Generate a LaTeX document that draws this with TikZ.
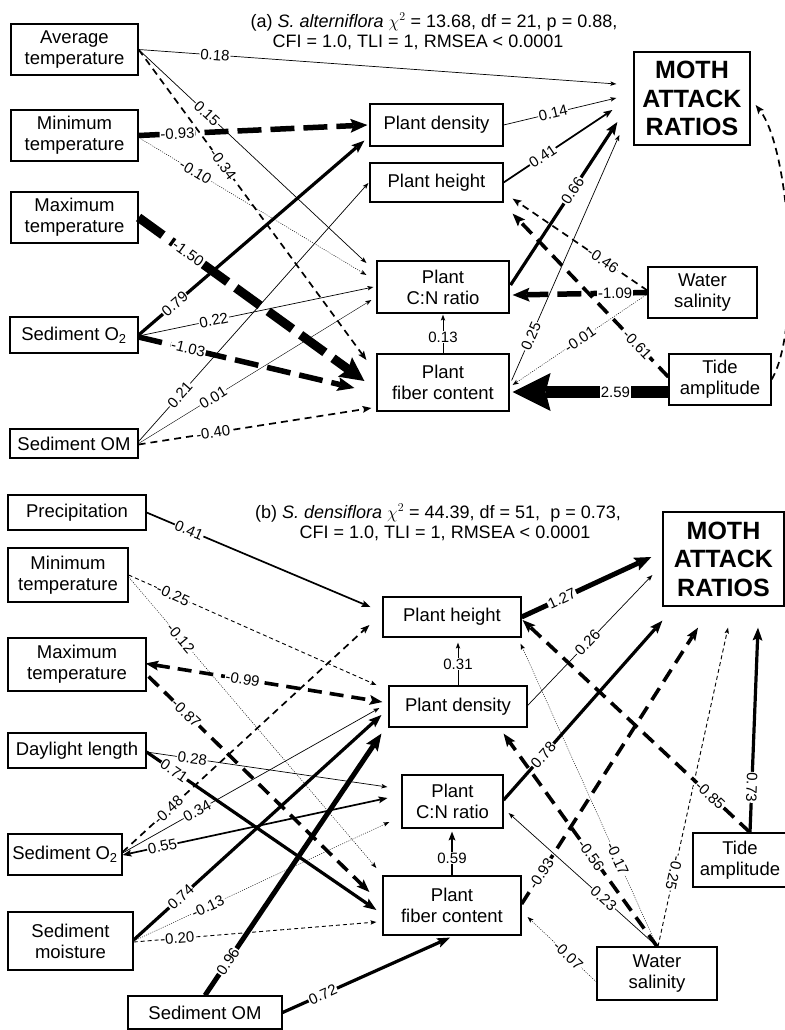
\documentclass[tikz,border=0pt]{standalone}
\usepackage{fontspec}
\setmainfont{Liberation Sans}
\usetikzlibrary{arrows.meta,calc}
\tikzset{
  box/.style={draw, line width=1.2bp, align=center, inner sep=0pt, font=\fontsize{18.5bp}{21bp}\selectfont},
  mothbox/.style={draw, line width=1.3bp, align=center, inner sep=0pt, font=\fontsize{25bp}{28.5bp}\selectfont\bfseries},
  ttl/.style={inner sep=0pt, anchor=base, font=\fontsize{18bp}{20bp}\selectfont},
  lab/.style={fill=white, inner sep=0.8bp, font=\fontsize{15bp}{15bp}\selectfont},
  a1/.style={-{Stealth[length=6bp,width=4.5bp,inset=1.2bp,line width=0pt]}},
  a2/.style={-{Stealth[length=9bp,width=7bp,inset=1.8bp,line width=0pt]}},
  a2d/.style={{Stealth[length=9bp,width=7bp,inset=1.8bp,line width=0pt]}-{Stealth[length=9bp,width=7bp,inset=1.8bp,line width=0pt]}},
  a3/.style={-{Stealth[length=13bp,width=10bp,inset=2.5bp,line width=0pt]}},
  a3d/.style={{Stealth[length=13bp,width=10bp,inset=2.5bp,line width=0pt]}-{Stealth[length=13bp,width=10bp,inset=2.5bp,line width=0pt]}},
  a4/.style={-{Stealth[length=17bp,width=14bp,inset=3bp,line width=0pt]}},
  a5/.style={-{Stealth[length=24bp,width=24bp,inset=4bp,line width=0pt]}},
  a6/.style={-{Stealth[length=38bp,width=38bp,inset=5bp,line width=0pt]}},
  l0/.style={line width=0.45bp, dash pattern=on 1bp off 1.3bp},
  l0s/.style={line width=0.4bp},
  l1/.style={line width=0.7bp},
  ld1/.style={line width=0.9bp, dash pattern=on 4bp off 3bp},
  l2/.style={line width=1.7bp},
  ld2/.style={line width=1.7bp, dash pattern=on 7bp off 5bp},
  l3/.style={line width=3.2bp},
  ld3/.style={line width=3.6bp, dash pattern=on 14bp off 8bp},
  l4/.style={line width=5bp},
  ld4/.style={line width=5.5bp, dash pattern=on 24bp off 9bp},
  ld5/.style={line width=9bp, dash pattern=on 30bp off 10bp},
  l6/.style={line width=12bp},
}
\begin{document}
\begin{tikzpicture}[x=1bp,y=-1bp]
\fill[white] (0,0) rectangle (785,1030);
\useasboundingbox (0,0) rectangle (785,1030);

% ---------------- panel (a) ----------------
\node[ttl] (ta1) at (434,27) {(a) \textit{S. alterniflora} $\chi^2$ = 13.68, df = 21, p = 0.88,};
\node[ttl] (ta2) at (418,47) {CFI = 1.0, TLI = 1, RMSEA < 0.0001};

\node[box, minimum width=127bp, minimum height=51bp] (avg) at (74.5,49.5) {Average\\temperature};
\node[box, minimum width=127bp, minimum height=51bp] (mint) at (74.5,135.5) {Minimum\\temperature};
\node[box, minimum width=127bp, minimum height=51bp] (maxt) at (74.5,217.5) {Maximum\\temperature};
\node[box, minimum width=128bp, minimum height=36bp] (so2) at (74,335) {Sediment O\textsubscript{2}};
\node[box, minimum width=128bp, minimum height=29bp] (om) at (74,443.5) {Sediment OM};
\node[box, minimum width=133bp, minimum height=42bp] (pd) at (436.5,125) {Plant density};
\node[box, minimum width=133bp, minimum height=39bp] (ph) at (436.5,182.5) {Plant height};
\node[box, minimum width=132bp, minimum height=52bp] (cn) at (443,287) {Plant\\C:N ratio};
\node[box, minimum width=132bp, minimum height=57bp] (fib) at (443,382.5) {Plant\\fiber content};
\node[box, minimum width=109bp, minimum height=51bp] (ws) at (702.5,292.5) {Water\\salinity};
\node[box, minimum width=102bp, minimum height=51bp] (tide) at (720,379.5) {Tide\\amplitude};
\node[mothbox, minimum width=116bp, minimum height=93bp] (moth) at (692,98.5) {MOTH\\ATTACK\\RATIOS};

\draw[l1,a1] (avg.east) -- node[lab,sloped,pos=0.16]{0.18} ($(moth.west)+(-17,-14.5)$);
\draw[l1,a1] (avg.east) -- node[lab,sloped,pos=0.30]{0.15} ($(cn.west)+(-10,-24)$);
\draw[ld2,a2] (avg.east) -- node[lab,sloped,pos=0.37]{-0.34} ($(fib.west)+(-10,-22.5)$);
\draw[ld4,a4] (mint.east) -- node[lab,sloped,pos=0.17]{-0.93} ($(pd.west)+(-2,0)$);
\draw[l0,a1] ($(mint.east)+(0,2)$) -- node[lab,sloped,pos=0.25]{-0.10} ($(cn.west)+(-10,-12)$);
\draw[ld5,a5] (maxt.east) -- node[lab,sloped,pos=0.22]{-1.50} ($(fib.west)+(-12,-1.5)$);
\draw[l3,a3] (so2.east) -- node[lab,sloped,pos=0.16]{0.79} ($(pd.south west)+(-5,-6)$);
\draw[l1,a1] ($(so2.east)+(0,1)$) -- node[lab,sloped,pos=0.32]{0.22} ($(cn.west)+(-3,0)$);
\draw[ld4,a4] ($(so2.east)+(0,2)$) -- node[lab,sloped,pos=0.23]{-1.03} ($(fib.west)+(-22,5.5)$);
\draw[l1,a1] ($(om.east)+(0,-2)$) -- node[lab,sloped,pos=0.18]{0.21} ($(ph.west)+(-1,0.5)$);
\draw[l0s,a1] (om.east) -- node[lab,sloped,pos=0.32]{0.01} ($(cn.west)+(-5,13)$);
\draw[ld2,a2] ($(om.east)+(0,1)$) -- node[lab,sloped,pos=0.32]{-0.40} ($(fib.west)+(-5,25.5)$);

\draw[l1,a1] (pd.east) -- node[lab,sloped,pos=0.44]{0.14} ($(moth.west)+(-17,-0.5)$);
\draw[l2,a2] (ph.east) -- node[lab,sloped,pos=0.36]{0.41} ($(moth.west)+(-21,11.5)$);
\draw[l3,a3] ($(cn.east)+(1,-2)$) -- node[lab,sloped,pos=0.58]{0.66} ($(moth.west)+(-16,23.5)$);
\draw[l1,a1] ($(fib.east)+(2,-2)$) -- node[lab,sloped,pos=0.18]{0.25} ($(moth.west)+(-14,36.5)$);
\draw[ld2,a2] ($(ws.west)+(0,-2)$) -- node[lab,sloped,pos=0.33]{-0.46} ($(ph.south east)+(9,-4)$);
\draw[ld4,a4] (ws.west) -- node[lab,sloped,pos=0.24]{-1.09} ($(cn.east)+(3,8)$);
\draw[l0,a1] ($(ws.west)+(0,1.5)$) -- node[lab,sloped,pos=0.5]{-0.01} ($(fib.east)+(3,2.5)$);
\draw[ld3,a3] ($(tide.west)+(0,-2.5)$) -- node[lab,sloped,pos=0.2]{-0.61} ($(ph.south east)+(9,11)$);
\draw[l6,a6] ($(tide.west)+(0,12.5)$) -- node[lab,pos=0.34]{2.59} ($(fib.east)+(3,9.5)$);
\draw[ld2,a2] (tide.east) .. controls +(30,-50) and +(35,45) .. ($(moth.east)+(5,6.5)$);
\draw[l1,a1] (fib.north) -- node[lab,pos=0.42]{0.13} ($(cn.south)+(0,1)$);

% ---------------- panel (b) ----------------
\node[ttl] (tb1) at (438,518) {(b) \textit{S. densiflora} $\chi^2$ = 44.39, df = 51, \ p = 0.73,};
\node[ttl] (tb2) at (445,538) {CFI = 1.0, TLI = 1, RMSEA < 0.0001};

\node[box, minimum width=138bp, minimum height=35bp] (prec) at (77,512.5) {Precipitation};
\node[box, minimum width=120bp, minimum height=54bp] (mint2) at (68,575) {Minimum\\temperature};
\node[box, minimum width=138bp, minimum height=53bp] (maxt2) at (77,664.5) {Maximum\\temperature};
\node[box, minimum width=138bp, minimum height=35bp] (day) at (77,750.5) {Daylight length};
\node[box, minimum width=114bp, minimum height=41bp] (so2b) at (65,854.5) {Sediment O\textsubscript{2}};
\node[box, minimum width=125bp, minimum height=58bp] (moist) at (70.5,941) {Sediment\\moisture};
\node[box, minimum width=154bp, minimum height=33bp] (omb) at (205,1012.5) {Sediment OM};
\node[box, minimum width=138bp, minimum height=40bp] (phb) at (452,617) {Plant height};
\node[box, minimum width=138bp, minimum height=41bp] (pdb) at (458,706.5) {Plant density};
\node[box, minimum width=101bp, minimum height=53bp] (cnb) at (452.5,801.5) {Plant\\C:N ratio};
\node[box, minimum width=138bp, minimum height=59bp] (fibb) at (452,905.5) {Plant\\fiber content};
\node[box, minimum width=120bp, minimum height=53bp] (wsb) at (657,973.5) {Water\\salinity};
\node[box, minimum width=94bp, minimum height=54bp] (tideb) at (740,860) {Tide\\amplitude};
\node[mothbox, minimum width=121bp, minimum height=94bp] (mothb) at (723.5,559) {MOTH\\ATTACK\\RATIOS};

\draw[l2,a2] (prec.east) -- node[lab,sloped,pos=0.19]{0.41} ($(phb.west)+(-12,-10)$);
\draw[ld1,a1] (mint2.east) -- node[lab,sloped,pos=0.18]{-0.25} ($(pdb.west)+(-12,-21.5)$);
\draw[l0,a1] ($(mint2.east)+(0,2)$) -- node[lab,sloped,pos=0.21]{-0.12} ($(fibb.west)+(-6,-37.5)$);
\draw[ld3,a3d] ($(maxt2.east)+(-1,-1)$) -- node[lab,sloped,pos=0.41]{-0.99} ($(pdb.west)+(-6,-4.5)$);
\draw[ld3,a3] ($(maxt2.east)+(2,12)$) -- node[lab,sloped,pos=0.17]{-0.87} ($(fibb.west)+(-13,-13.5)$);
\draw[l1,a1] ($(day.east)+(0,1.5)$) -- node[lab,sloped,pos=0.19]{0.28} ($(cnb.west)+(-14,-14.5)$);
\draw[l3,a3] ($(day.east)+(0,1.5)$) -- node[lab,sloped,pos=0.12]{0.71} ($(fibb.west)+(-6,4.5)$);
\draw[ld2,a2] ($(so2b.east)+(0,-2.5)$) -- node[lab,sloped,pos=0.185]{-0.48} ($(phb.west)+(-13,8)$);
\draw[l1,a1] ($(so2b.east)+(0,-1.5)$) -- node[lab,sloped,pos=0.29]{0.34} ($(pdb.west)+(-9,1.5)$);
\draw[l2,a2d] ($(so2b.east)+(0,0.5)$) -- node[lab,sloped,pos=0.15]{0.55} ($(cnb.west)+(-14,-3.5)$);
\draw[l3,a3] ($(moist.east)+(0,-1)$) -- node[lab,sloped,pos=0.19]{0.74} ($(pdb.west)+(-7,8.5)$);
\draw[l0,a1] (moist.east) -- node[lab,sloped,pos=0.29]{-0.13} ($(cnb.west)+(-12,20.5)$);
\draw[ld1,a1] ($(moist.east)+(0,1)$) -- node[lab,sloped,pos=0.18]{-0.20} ($(fibb.west)+(-6,16.5)$);
\draw[l4,a4] (omb.north) -- node[lab,sloped,pos=0.13]{0.96} ($(pdb.south west)+(-7,6)$);
\draw[l3,a3] (omb.east) -- node[lab,sloped,pos=0.24]{0.72} ($(fibb.south)+(-2,2)$);

\draw[l4,a4] (phb.east) -- node[lab,sloped,pos=0.31]{1.27} ($(mothb.west)+(-11,-2)$);
\draw[l1,a1] ($(pdb.east)+(0,-1)$) -- node[lab,sloped,pos=0.48]{0.26} ($(mothb.west)+(-10,16)$);
\draw[l3,a3] ($(cnb.east)+(0,-1.5)$) -- node[lab,sloped,pos=0.25]{0.78} ($(mothb.south west)+(0,14)$);
\draw[ld3,a3] ($(fibb.east)+(0,-1.5)$) -- node[lab,sloped,pos=0.11]{-0.93} ($(mothb.south)+(-25.5,21)$);
\draw[ld1,a1] ($(wsb.north)+(1,0)$) -- node[lab,pos=0.23,rotate=-102]{-0.25} ($(mothb.south)+(4.5,21)$);
\draw[l3,a3] ($(tideb.north)+(10,0)$) -- node[lab,pos=0.22,rotate=-92]{0.73} ($(mothb.south)+(34.5,21)$);
\draw[ld3,a3] ($(tideb.north)+(10,0)$) -- node[lab,sloped,pos=0.175]{-0.85} ($(phb.east)+(1,3)$);
\draw[l1,a1] (pdb.north) -- node[lab,pos=0.5]{0.31} ($(phb.south)+(6,5)$);
\draw[l2,a2] (fibb.north) -- node[lab,pos=0.4]{0.59} ($(cnb.south)+(-0.5,3)$);
\draw[ld3,a3] (wsb.north) -- node[lab,sloped,pos=0.43]{-0.56} ($(pdb.south east)+(-24,6)$);
\draw[l0,a1] (wsb.north) -- node[lab,sloped,pos=0.29]{-0.17} ($(phb.south east)+(-1,6)$);
\draw[l1,a1] (wsb.north) -- node[lab,sloped,pos=0.36]{0.23} ($(cnb.east)+(5,11.5)$);
\draw[l0,a1] ($(wsb.west)+(0,8.5)$) -- node[lab,sloped,pos=0.41]{-0.07} ($(fibb.east)+(6,11.5)$);
\end{tikzpicture}
\end{document}
